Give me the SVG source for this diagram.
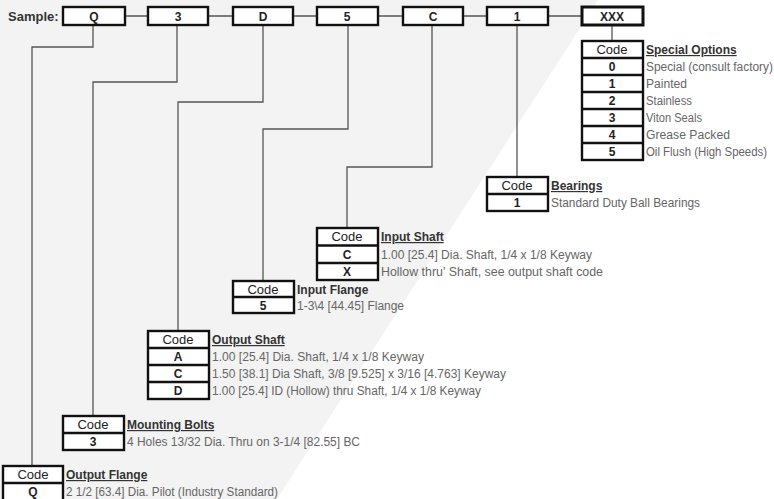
<svg xmlns="http://www.w3.org/2000/svg" width="774" height="499" viewBox="0 0 774 499">
<style>
.bg{fill:#f3f3f3}
.box{fill:#fff;stroke:#111;stroke-width:2.4}
.sep{stroke:#111;stroke-width:2.4}
.conn{fill:none;stroke:#555;stroke-width:1.3}
.lbl{font-family:"Liberation Sans",Arial,sans-serif;font-size:13px;fill:#222;text-anchor:middle}
.val{font-weight:bold;font-size:12px}
.hdr{font-family:"Liberation Sans",Arial,sans-serif;font-size:12px;font-weight:bold;fill:#333;text-decoration:underline}
.hdr2{font-family:"Liberation Sans",Arial,sans-serif;font-size:12px;font-weight:bold;fill:#333}
.desc{font-family:"Liberation Sans",Arial,sans-serif;font-size:12px;fill:#666}
.top{font-family:"Liberation Sans",Arial,sans-serif;font-size:12px;font-weight:bold;fill:#222;text-anchor:middle}
</style>
<polygon class="bg" points="0,0 598,0 277,499 0,499"/>

<g id="connectors">
<line class="conn" x1="126" y1="16" x2="581" y2="16"/>
<path class="conn" d="M93,25 V47 H32 V466"/>
<path class="conn" d="M177,25 V82 H93 V416"/>
<path class="conn" d="M263,25 V102 H178 V331"/>
<path class="conn" d="M348,25 V129 H263 V281"/>
<path class="conn" d="M432,25 V167 H347 V228"/>
<path class="conn" d="M517,25 V177"/>
<path class="conn" d="M612,25 V41"/>
</g>

<g id="sample">
<text x="8" y="21" style="font-family:'Liberation Sans',Arial,sans-serif;font-size:13px;font-weight:bold;fill:#333">Sample:</text>
<rect class="box" x="63" y="7" width="62" height="18"/><text class="top" x="94" y="21">Q</text>
<rect class="box" x="148" y="7" width="60" height="18"/><text class="top" x="178" y="21">3</text>
<rect class="box" x="233" y="7" width="60" height="18"/><text class="top" x="263" y="21">D</text>
<rect class="box" x="317" y="7" width="61" height="18"/><text class="top" x="347" y="21">5</text>
<rect class="box" x="403" y="7" width="60" height="18"/><text class="top" x="433" y="21">C</text>
<rect class="box" x="487" y="7" width="61" height="18"/><text class="top" x="517" y="21">1</text>
<rect class="box" x="582" y="7" width="61" height="18" style="stroke-width:3"/><text class="top" x="612" y="21">XXX</text>
</g>

<g id="special-options">
<rect class="box" x="582" y="41" width="61" height="119"/>
<line class="sep" x1="582" y1="58" x2="643" y2="58"/>
<line class="sep" x1="582" y1="75" x2="643" y2="75"/>
<line class="sep" x1="582" y1="92" x2="643" y2="92"/>
<line class="sep" x1="582" y1="109" x2="643" y2="109"/>
<line class="sep" x1="582" y1="126" x2="643" y2="126"/>
<line class="sep" x1="582" y1="143" x2="643" y2="143"/>
<text class="lbl" x="612" y="54">Code</text>
<text class="lbl val" x="612" y="71">0</text>
<text class="lbl val" x="612" y="88">1</text>
<text class="lbl val" x="612" y="105">2</text>
<text class="lbl val" x="612" y="122">3</text>
<text class="lbl val" x="612" y="139">4</text>
<text class="lbl val" x="612" y="156">5</text>
<text class="hdr" x="646" y="54">Special Options</text>
<text class="desc" x="646" y="71" textLength="127" lengthAdjust="spacingAndGlyphs">Special (consult factory)</text>
<text class="desc" x="646" y="88" textLength="41" lengthAdjust="spacingAndGlyphs">Painted</text>
<text class="desc" x="646" y="105" textLength="46" lengthAdjust="spacingAndGlyphs">Stainless</text>
<text class="desc" x="646" y="122" textLength="56" lengthAdjust="spacingAndGlyphs">Viton Seals</text>
<text class="desc" x="646" y="139" textLength="84" lengthAdjust="spacingAndGlyphs">Grease Packed</text>
<text class="desc" x="646" y="156" textLength="121" lengthAdjust="spacingAndGlyphs">Oil Flush (High Speeds)</text>
</g>

<g id="bearings">
<rect class="box" x="487" y="177" width="61" height="34"/>
<line class="sep" x1="487" y1="194" x2="548" y2="194"/>
<text class="lbl" x="517" y="190">Code</text>
<text class="lbl val" x="517" y="207">1</text>
<text class="hdr" x="551" y="190">Bearings</text>
<text class="desc" x="551" y="207" textLength="149" lengthAdjust="spacingAndGlyphs">Standard Duty Ball Bearings</text>
</g>

<g id="input-shaft">
<rect class="box" x="317" y="228" width="61" height="52"/>
<line class="sep" x1="317" y1="245.5" x2="378" y2="245.5"/>
<line class="sep" x1="317" y1="263" x2="378" y2="263"/>
<text class="lbl" x="347" y="241">Code</text>
<text class="lbl val" x="347" y="258.5">C</text>
<text class="lbl val" x="347" y="276">X</text>
<text class="hdr" x="381" y="241">Input Shaft</text>
<text class="desc" x="381" y="258.5" textLength="211" lengthAdjust="spacingAndGlyphs">1.00 [25.4] Dia. Shaft, 1/4 x 1/8 Keyway</text>
<text class="desc" x="381" y="276" textLength="222" lengthAdjust="spacingAndGlyphs">Hollow thru' Shaft, see output shaft code</text>
</g>

<g id="input-flange">
<rect class="box" x="233" y="281" width="61" height="32"/>
<line class="sep" x1="233" y1="297" x2="294" y2="297"/>
<text class="lbl" x="263" y="294">Code</text>
<text class="lbl val" x="263" y="310">5</text>
<text class="hdr2" x="297" y="294">Input Flange</text>
<text class="desc" x="297" y="310" textLength="107" lengthAdjust="spacingAndGlyphs">1-3\4 [44.45] Flange</text>
</g>

<g id="output-shaft">
<rect class="box" x="148" y="331" width="61" height="68"/>
<line class="sep" x1="148" y1="348" x2="209" y2="348"/>
<line class="sep" x1="148" y1="365" x2="209" y2="365"/>
<line class="sep" x1="148" y1="382" x2="209" y2="382"/>
<text class="lbl" x="178" y="344">Code</text>
<text class="lbl val" x="178" y="361">A</text>
<text class="lbl val" x="178" y="378">C</text>
<text class="lbl val" x="178" y="395">D</text>
<text class="hdr" x="212" y="344">Output Shaft</text>
<text class="desc" x="212" y="361" textLength="212" lengthAdjust="spacingAndGlyphs">1.00 [25.4] Dia. Shaft, 1/4 x 1/8 Keyway</text>
<text class="desc" x="212" y="378" textLength="294" lengthAdjust="spacingAndGlyphs">1.50 [38.1] Dia Shaft, 3/8 [9.525] x 3/16 [4.763] Keyway</text>
<text class="desc" x="212" y="395" textLength="269" lengthAdjust="spacingAndGlyphs">1.00 [25.4] ID (Hollow) thru Shaft, 1/4 x 1/8 Keyway</text>
</g>

<g id="mounting-bolts">
<rect class="box" x="63" y="416" width="61" height="34"/>
<line class="sep" x1="63" y1="433" x2="124" y2="433"/>
<text class="lbl" x="93" y="429">Code</text>
<text class="lbl val" x="93" y="446">3</text>
<text class="hdr" x="127" y="429">Mounting Bolts</text>
<text class="desc" x="127" y="446" textLength="233" lengthAdjust="spacingAndGlyphs">4 Holes 13/32 Dia. Thru on 3-1/4 [82.55] BC</text>
</g>

<g id="output-flange">
<rect class="box" x="3" y="466" width="60" height="36"/>
<line class="sep" x1="3" y1="483" x2="63" y2="483"/>
<text class="lbl" x="33" y="479">Code</text>
<text class="lbl val" x="33" y="496">Q</text>
<text class="hdr" x="66" y="479">Output Flange</text>
<text class="desc" x="66" y="496" textLength="212" lengthAdjust="spacingAndGlyphs">2 1/2 [63.4] Dia. Pilot (Industry Standard)</text>
</g>
</svg>
